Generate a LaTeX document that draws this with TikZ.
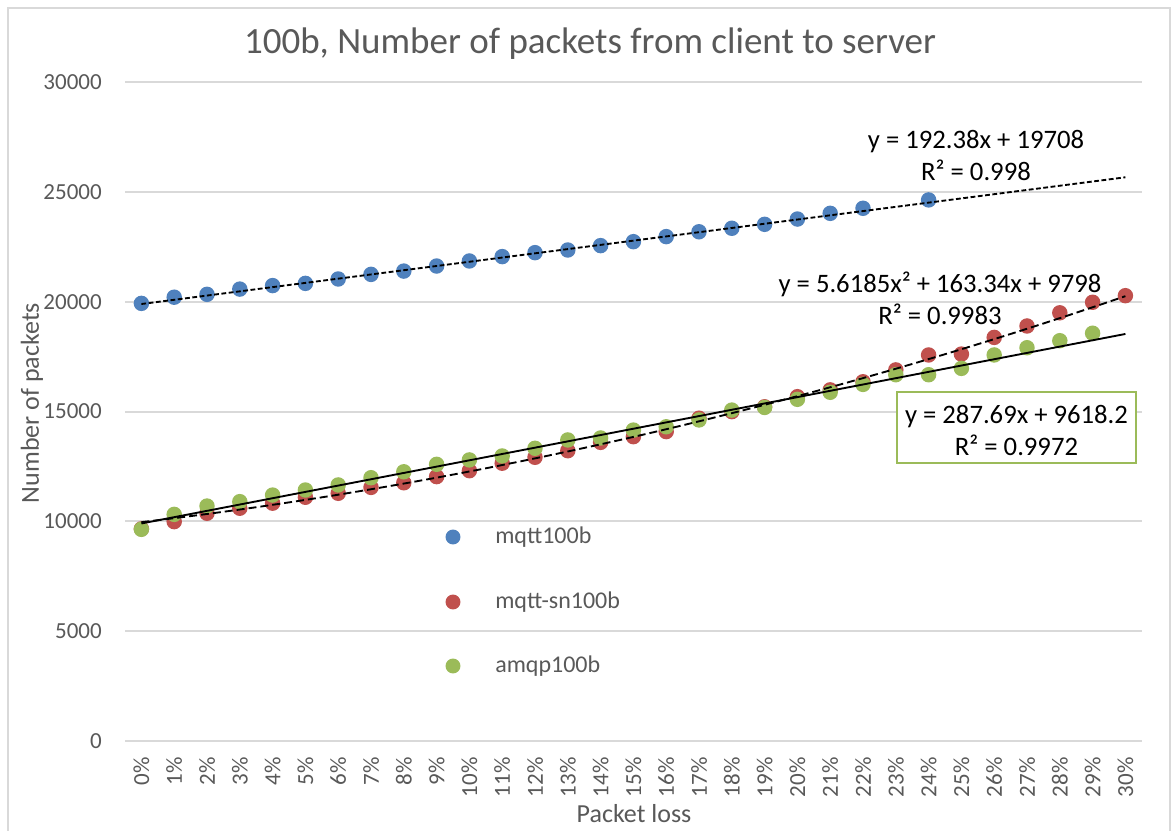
\documentclass[tikz,border=0pt]{standalone}
\usepackage{fontspec}
\setmainfont{Carlito}
\definecolor{gridc}{HTML}{D9D9D9}
\definecolor{txt}{HTML}{595959}
\definecolor{sblue}{HTML}{4F81BD}
\definecolor{sred}{HTML}{C0504D}
\definecolor{sgreen}{HTML}{9BBB59}
\begin{document}
\begin{tikzpicture}[x=0.75pt,y=-0.75pt,
  gridline/.style={draw=gridc, line width=1.5pt},
  frameline/.style={draw=gridc, line width=1.5pt},
  ticky/.style={anchor=east, text=txt, inner sep=0pt, font=\fontsize{17.25}{20}\selectfont},
  tickx/.style={anchor=east, rotate=90, text=txt, inner sep=0pt, font=\fontsize{17.25}{20}\selectfont},
  axtitle/.style={text=txt, inner sep=0pt, font=\fontsize{19.5}{23}\selectfont},
  legtext/.style={anchor=west, text=txt, inner sep=0pt, font=\fontsize{18}{22}\selectfont},
  eqlabel/.style={text=black, align=center, inner sep=2pt, font=\fontsize{20}{24}\selectfont},
  trendblue/.style={draw=black, line width=1.4pt, dash pattern=on 3.6pt off 1.9pt},
  trendred/.style={draw=black, line width=1.4pt, dash pattern=on 6pt off 3pt},
  trendgreen/.style={draw=black, line width=1.4pt}
]
\useasboundingbox (0,0) rectangle (1172,831);
\fill[white] (0,0) rectangle (1172,831);
% frame
\draw[frameline] (8,831) -- (8,8) -- (1170,8) -- (1170,831);
% title
\node[text=txt, inner sep=0pt, font=\fontsize{27.75}{32}\selectfont] (title) at (590,44) {100b, Number of packets from client to server};
% gridlines and y labels
\foreach \v/\y in {0/741,5000/631.2,10000/521.4,15000/411.6,20000/301.8,25000/192,30000/82.2}{
  \draw[gridline] (125,\y) -- (1142,\y);
  \node[ticky] (yl\v) at (102,\y) {\v};
}
% x labels
\foreach \i in {0,...,30}{
  \node[tickx] (xl\i) at ({141.4+32.8*\i},757) {\i\%};
}
% axis titles
\node[axtitle, rotate=90] (ytitle) at (32,403) {Number of packets};
\node[axtitle] (xtitle) at (634,814) {Packet loss};
% data
\begin{scope}[xshift=81.45pt, yshift=-555.75pt, x=24.6pt, y=16.469pt]
  \foreach \v [count=\k] in {19.93,20.21,20.34,20.58,20.74,20.84,21.04,21.25,21.40,21.63,21.86,22.06,22.24,22.36,22.56,22.74,22.97,23.19,23.35,23.53,23.77,24.03,24.26}{
    \fill[sblue] (\k,\v) circle[radius=5.8pt];
  }
  \fill[sblue] (25,24.64) circle[radius=5.8pt];
  \foreach \v [count=\k] in {9.66,9.99,10.37,10.60,10.83,11.10,11.28,11.55,11.76,12.04,12.31,12.65,12.92,13.22,13.60,13.86,14.09,14.70,15.00,15.22,15.68,15.99,16.36,16.90,17.58,17.62,18.38,18.90,19.50,19.98,20.28}{
    \fill[sred] (\k,\v) circle[radius=5.8pt];
  }
  \foreach \v [count=\k] in {9.64,10.32,10.70,10.90,11.20,11.43,11.66,11.99,12.26,12.60,12.80,12.98,13.33,13.71,13.80,14.16,14.31,14.62,15.07,15.19,15.56,15.88,16.24,16.68,16.68,16.97,17.58,17.91,18.23,18.57}{
    \fill[sgreen] (\k,\v) circle[radius=5.8pt];
  }
  % trend lines
  \coordinate (tb1) at (1,19.90038);
  \coordinate (tb2) at (31,25.67178);
  \draw[trendblue] (tb1) -- (tb2);
  \draw[trendred] plot[domain=1:31, samples=61, smooth] (\x,{0.0056185*\x*\x+0.16334*\x+9.798});
  \coordinate (tg1) at (1,9.90589);
  \coordinate (tg2) at (31,18.53659);
  \draw[trendgreen] (tg1) -- (tg2);
\end{scope}
% equation labels
\node[eqlabel] (eqblue) at (976,155) {y = 192.38x + 19708\\R² = 0.998};
\node[eqlabel] (eqred) at (940,298) {y = 5.6185x² + 163.34x + 9798\\R² = 0.9983};
\node[draw=sgreen, line width=1.5pt, fill=white, minimum width=239*0.75pt, minimum height=71*0.75pt, inner sep=0pt] (eqgreenbox) at (1016.5,427.5) {};
\node[eqlabel] (eqgreen) at (1016.5,430) {y = 287.69x + 9618.2\\R² = 0.9972};
% legend
\fill[sblue] (453,537) circle[radius=5.6pt];
\node[legtext] (leg1) at (495,537) {mqtt100b};
\fill[sred] (453,602) circle[radius=5.6pt];
\node[legtext] (leg2) at (495,602) {mqtt-sn100b};
\fill[sgreen] (453,666) circle[radius=5.6pt];
\node[legtext] (leg3) at (495,666) {amqp100b};
\end{tikzpicture}
\end{document}
